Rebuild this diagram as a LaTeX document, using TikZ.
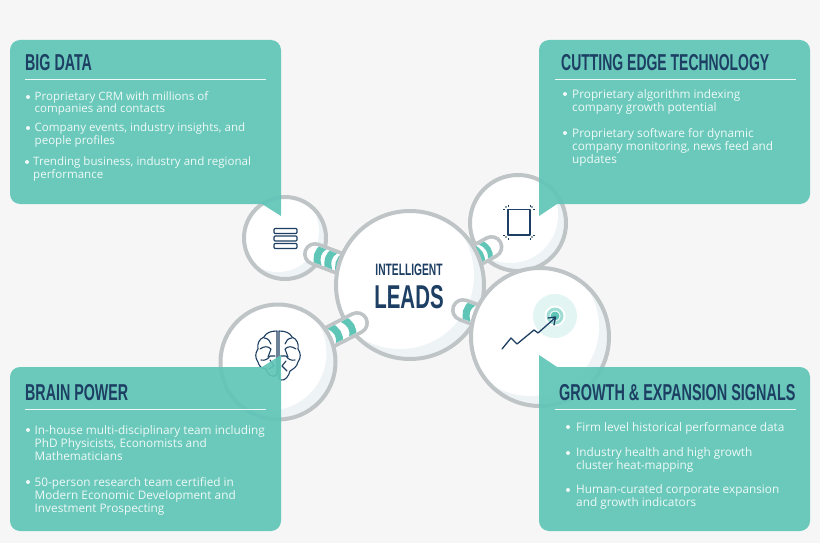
\documentclass[tikz,border=0pt]{standalone}
\usepackage{fontspec}
\setmainfont{Open Sans}
\newfontfamily\headfont[FakeStretch=0.62]{Liberation Sans Bold}
\definecolor{bgc}{HTML}{F6F6F6}
\definecolor{tealc}{HTML}{5FC6B7}
\definecolor{navy}{HTML}{1D3F63}
\definecolor{ringc}{HTML}{BFC4C6}
\definecolor{paleb}{HTML}{EEF3F6}
\definecolor{bodyc}{HTML}{EEF9F7}
\tikzset{
  x=1pt,y=-1pt,
  panel/.style={fill=tealc,fill opacity=.92,draw=none},
  ruleline/.style={draw=bodyc,line width=.9pt},
  head/.style={anchor=base west,inner sep=0,text=navy,font=\headfont\fontsize{23}{23}\selectfont},
  body/.style={anchor=north west,inner sep=0,text=bodyc,align=left,font=\fontsize{11.55}{12.3}\selectfont},
  bodywide/.style={anchor=north west,inner sep=0,text=bodyc,align=left,font=\fontsize{11.8}{13}\selectfont},
  bull/.style={circle,fill=bodyc,inner sep=0,minimum size=4pt},
  ring/.style={draw=ringc,line width=4pt},
  icon/.style={draw=navy,line width=1.1pt,line join=round,line cap=round},
  capouter/.style={draw=ringc,line width=24pt,line cap=round},
  capinner/.style={draw=white,line width=16.5pt,line cap=round},
}
\newcommand{\bubble}[5]{% name, x, y, r, offset r
  \begin{scope}
    \path[clip] (#2,#3) circle[radius=#4];
    \fill[paleb] (#2,#3) circle[radius=#4];
    \fill[white] (#2-#5,#3-#5) circle[radius=#4];
  \end{scope}
  \node[circle,ring,minimum size=2*#4,inner sep=0] (#1) at (#2,#3) {};
}
% from, to, page angle, stripe width, list of stripe positions
\newcommand{\capsule}[5]{
  \draw[capouter] (#1) -- (#2);
  \draw[capinner] (#1) -- (#2);
  \begin{scope}[shift={(#1)},rotate=#3]
    \path[clip] (-12,-8.25) rectangle (60,8.25);
    \foreach \s in {#5}{
      \draw[tealc,line width=#4pt] (\s,-10) .. controls (\s-5,-3) and (\s-4,3) .. (\s+1,10);
    }
  \end{scope}
}
\begin{document}
\begin{tikzpicture}
\useasboundingbox (0,0) rectangle (820,543);
\fill[bgc] (0,0) rectangle (820,543);

\coordinate (c1a) at (315,254); \coordinate (c1b) at (352,268);
\coordinate (c2a) at (357,323); \coordinate (c2b) at (322,341);
\coordinate (c3a) at (491.5,247); \coordinate (c3b) at (468,260);
\coordinate (c4a) at (463,310); \coordinate (c4b) at (490,320);

% small upper bubbles
\bubble{b1}{285}{238}{41}{7}
\bubble{b3}{518}{223}{48}{8}

% connectors that go under the central bubble
\capsule{c1a}{c1b}{-20.7}{7}{6,17.5,29}
\capsule{c3a}{c3b}{209}{5}{7,16}

% central bubble
\bubble{cb}{410}{285}{74}{10}

% connectors that go over the central bubble
\capsule{c2a}{c2b}{207}{7}{10,25}
\capsule{c4a}{c4b}{-20}{7}{7}

% lower bubbles
\bubble{b2}{278}{362}{57.5}{9}
\bubble{b4}{540}{337}{69}{10}

% central label
\node[inner sep=0,text=navy,font=\headfont\fontsize{16.5}{16.5}\selectfont] (lab1) at (409,270) {INTELLIGENT};
\node[inner sep=0,text=navy,font=\headfont\fontsize{33}{33}\selectfont] (lab2) at (409,297) {LEADS};

% server icon
\draw[icon,rounded corners=1pt] (274,228.5) rectangle (297,233.5);
\draw[icon,rounded corners=1pt] (274,236) rectangle (297,241);
\draw[icon,rounded corners=1pt] (274,243.5) rectangle (297,248.5);

% frame icon
\draw[icon] (508,209.5) rectangle (530,235);
\foreach \px/\py in {506/207,532/207,506/237,532/237}{\fill[navy] (\px,\py) circle[radius=.9];}
\draw[navy,line width=.7pt] (503,209) -- (505,209) (508,204.5) -- (508,206.5) (530,204.5) -- (530,206.5) (533,209) -- (535,209)
 (503,235) -- (505,235) (508,238) -- (508,240) (530,238) -- (530,240) (533,235) -- (535,235);

% target and arrow
\fill[tealc!18] (555,316) circle[radius=22];
\fill[white] (555,316) circle[radius=10.5];
\fill[tealc!60] (555,316) circle[radius=8.5];
\fill[white] (555,316) circle[radius=5.5];
\fill[tealc] (555,316) circle[radius=4.5];
\draw[icon,line width=1.3pt] (502,349) -- (511,338) -- (517,344) -- (534,330) -- (538,333) -- (555,318);
\draw[icon,line width=1.3pt] (548,318) -- (555.5,317) -- (554,325);

% brain icon
\begin{scope}[icon]
\draw (277,331) .. controls (270,331) and (266,333) .. (264,337) .. controls (259,339) and (257,344) .. (258,349)
  .. controls (255,353) and (255,358) .. (258,362) .. controls (259,367) and (263,369) .. (266,369)
  .. controls (267,374) and (271,377) .. (275,376) -- (277,374) -- cycle;
\draw (279,331) .. controls (286,331) and (290,333) .. (292,337) .. controls (297,339) and (299,344) .. (298,349)
  .. controls (301,353) and (301,358) .. (298,362) .. controls (297,367) and (293,369) .. (290,371)
  .. controls (289,376) and (285,381) .. (281,380) -- (279,379) -- cycle;
\draw (260,349) .. controls (264,346) and (268,346) .. (271,349) -- (268,357);
\draw (264,338) .. controls (268,338) and (270,341) .. (271,344);
\draw (261,360) .. controls (265,361) and (268,359) .. (270,356) -- (275,356);
\draw (296,349) .. controls (292,346) and (288,346) .. (285,349) -- (288,357);
\draw (292,338) .. controls (288,338) and (286,341) .. (285,344);
\draw (295,360) .. controls (291,361) and (288,359) .. (286,356) -- (281,356);
\draw (269,369) -- (274,366) -- (270,360);
\draw (287,371) -- (282,366) -- (286,361);
\end{scope}

% panels
\path[panel,rounded corners=10pt] (10,40) -- (281,40) [sharp corners] -- (281,216) -- (262,204) [rounded corners=10pt] -- (10,204) -- cycle;
\path[panel,rounded corners=10pt] (539,122) -- (539,40) -- (810,40) -- (810,204) [sharp corners] -- (557,204) -- (539,216) -- cycle;
\path[panel,rounded corners=10pt] (10,450) -- (10,367) [sharp corners] -- (262,367) -- (281,355) [rounded corners=10pt] -- (281,531) -- (10,531) -- cycle;
\path[panel,sharp corners] (539,355) -- (557,367) [rounded corners=10pt] -- (810,367) -- (810,531) -- (539,531) [sharp corners] -- cycle;

% BIG DATA
\node[head] (h1) at (25,70.5) {BIG DATA};
\draw[ruleline] (25,79.5) -- (266,79.5);
\node[bull] (d11) at (28,97) {};
\node[body] (t11) at (34.5,91) {Proprietary CRM with millions of\\companies and contacts};
\node[bull] (d12) at (28,128) {};
\node[body] (t12) at (34.5,123) {Company events, industry insights, and\\people profiles};
\node[bull] (d13) at (27,162) {};
\node[body] (t13) at (33,157) {Trending business, industry and regional\\performance};

% CUTTING EDGE
\node[head] (h2) at (561,70.5) {\scalebox{.98}[1]{CUTTING EDGE TECHNOLOGY}};
\draw[ruleline] (555,79.5) -- (796,79.5);
\node[bull] (d21) at (565,94) {};
\node[bodywide] (t21) at (572,89.5) {Proprietary algorithm indexing\\company growth potential};
\node[bull] (d22) at (565,133) {};
\node[bodywide] (t22) at (572,128.5) {Proprietary software for dynamic\\company monitoring, news feed and\\updates};

% BRAIN POWER
\node[head] (h3) at (25,400.5) {BRAIN POWER};
\draw[ruleline] (25,409.5) -- (266,409.5);
\node[bull] (d31) at (28,430) {};
\node[bodywide] (t31) at (34.5,425.5) {In-house multi-disciplinary team including\\PhD Physicists, Economists and\\Mathematicians};
\node[bull] (d32) at (28,482) {};
\node[bodywide] (t32) at (34.5,477.5) {50-person research team certified in\\Modern Economic Development and\\Investment Prospecting};

% GROWTH
\node[head] (h4) at (559,400.5) {\scalebox{1.012}[1]{GROWTH \& EXPANSION SIGNALS}};
\draw[ruleline] (555,409.5) -- (796,409.5);
\node[bull] (d41) at (568,427) {};
\node[bodywide] (t41) at (576,422.5) {Firm level historical performance data};
\node[bull] (d42) at (568,453) {};
\node[bodywide] (t42) at (576,447) {Industry health and high growth\\cluster heat-mapping};
\node[bull] (d43) at (568,490) {};
\node[bodywide] (t43) at (576,484) {Human-curated corporate expansion\\and growth indicators};
\end{tikzpicture}
\end{document}
